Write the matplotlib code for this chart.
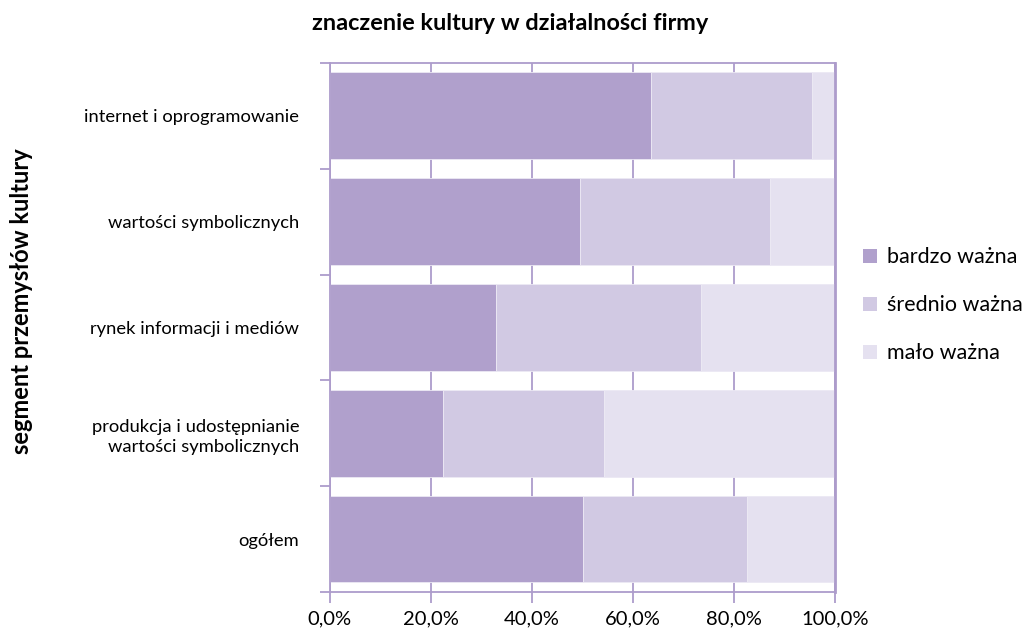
import numpy as np
import matplotlib.pyplot as plt
from matplotlib.patches import Patch

plt.rcParams['font.family'] = ['Lato', 'DejaVu Sans']

# segments, top to bottom
segments = ['internet i oprogramowanie',
            'wartości symbolicznych',
            'rynek informacji i mediów',
            'produkcja i udostępnianie\nwartości symbolicznych',
            'ogółem']
levels = ['bardzo ważna', 'średnio ważna', 'mało ważna']

# shares in %
bardzo = [63.6, 49.5, 32.9, 22.4, 50.0]
srednio = [31.8, 37.6, 40.6, 31.9, 32.6]
malo = [4.6, 12.9, 26.5, 45.7, 17.4]

colors = ['#b0a0cc', '#d1c9e3', '#e5e1f0']
line_col = '#ad9ccb'

fig = plt.figure(figsize=(10.31, 6.31), dpi=100)
ax = fig.add_axes([0.320, 0.0618, 0.490, 0.8384])

y = np.arange(len(segments))
left = np.zeros(len(segments))
for vals, c in zip([bardzo, srednio, malo], colors):
    ax.barh(y, vals, left=left, height=0.82, color=c, edgecolor='#ece9f4',
            linewidth=0.6, zorder=2)
    left += np.array(vals)

ax.set_xlim(0, 100)
ax.set_ylim(len(segments) - 0.5, -0.5)

ax.set_xticks(np.arange(0, 101, 20))
ax.set_xticklabels([f'{v},0%' for v in range(0, 101, 20)], fontsize=14.5)
ax.xaxis.grid(True, color=line_col, linewidth=1.3, zorder=0)
ax.tick_params(axis='x', length=8, width=1.3, color=line_col, pad=5)

ax.set_yticks(y)
ax.set_yticklabels(segments, fontsize=13.2, ha='right', linespacing=1.3)
ax.set_yticks(np.arange(-0.5, len(segments)), minor=True)
ax.tick_params(axis='y', which='major', length=0, pad=22)
ax.tick_params(axis='y', which='minor', length=7, width=1.3, color=line_col)

for side in ['left', 'top', 'bottom']:
    ax.spines[side].set_color(line_col)
    ax.spines[side].set_linewidth(1.3)
ax.spines['right'].set_color(line_col)
ax.spines['right'].set_linewidth(2)
ax.spines['top'].set_zorder(3)
ax.spines['right'].set_zorder(3)

fig.text(0.495, 0.962, 'znaczenie kultury w działalności firmy', fontsize=16.9,
         fontweight='bold', ha='center', va='center')
fig.text(0.021, 0.523, 'segment przemysłów kultury', rotation=90,
         fontsize=17, fontweight='bold', ha='center', va='center')

handles = [Patch(facecolor=c, edgecolor='none') for c in colors]
fig.legend(handles, levels, loc='center left', bbox_to_anchor=(0.837, 0.516),
           frameon=False, fontsize=15.5, handlelength=0.65, handleheight=0.65,
           handletextpad=0.45, labelspacing=1.3, borderpad=0, borderaxespad=0)

fig.savefig('out.png', dpi=100)
